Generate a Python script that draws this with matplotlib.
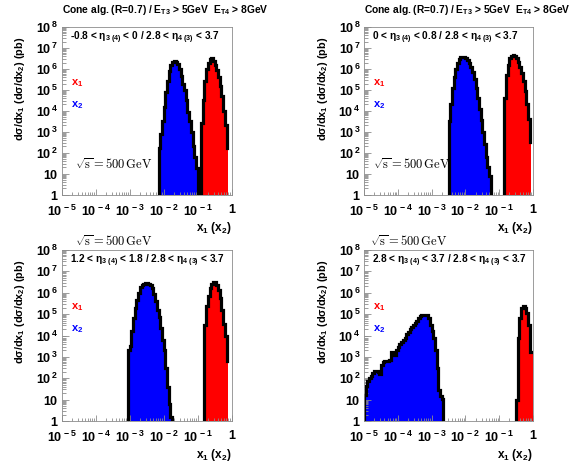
import numpy as np
import matplotlib
matplotlib.use('Agg')
import matplotlib.pyplot as plt
from matplotlib.ticker import FixedLocator, FixedFormatter, LogLocator, NullFormatter

plt.rcParams['font.family'] = ['Liberation Sans', 'DejaVu Sans']
plt.rcParams['font.weight'] = 'bold'
plt.rcParams['mathtext.fontset'] = 'custom'
plt.rcParams['mathtext.rm'] = 'Liberation Sans:bold'
plt.rcParams['mathtext.it'] = 'Liberation Sans:bold'
plt.rcParams['mathtext.bf'] = 'Liberation Sans:bold'

# bin width in log10(x)
BIN = 0.05

# log10 of dsigma/dx (pb), read bin by bin off the picture
tl_x2_lo = -2.15
tl_x2 = [2.2, 2.9, 3.5, 4.2, 4.9, 5.4, 5.9, 6.2, 6.33, 6.37, 6.35, 6.22, 6.0, 5.65,
         5.3, 5.0, 4.5, 3.95, 3.5, 3.0, 2.3, 1.8, 1.25]
tl_x1_lo = -0.90
tl_x1 = [3.4, 4.5, 5.4, 6.0, 6.3, 6.45, 6.5, 6.4, 6.2, 5.95, 5.6, 5.2, 4.7, 4.0, 3.3, 2.2]

tr_x2_lo = -2.50
tr_x2 = [3.5, 4.3, 5.1, 5.6, 6.0, 6.3, 6.48, 6.55, 6.57, 6.55, 6.5, 6.42, 6.3, 6.1,
         5.85, 5.5, 5.1, 4.6, 4.1, 3.55, 3.0, 2.4, 1.8, 1.3, 0.9]
tr_x1_lo = -0.85
tr_x1 = [4.6, 5.7, 6.2, 6.5, 6.62, 6.66, 6.6, 6.5, 6.35, 6.1, 5.8, 5.4, 4.95, 4.3, 3.6, 2.5]

bl_x2_lo = -3.05
bl_x2 = [3.3, 3.5, 4.2, 4.8, 5.3, 5.65, 6.0, 6.25, 6.38, 6.42, 6.45, 6.45, 6.42, 6.35,
         6.2, 5.95, 5.6, 5.2, 4.85, 4.35, 3.8, 3.3, 2.5, 1.6, 0.8, 0.2]
bl_x1_lo = -0.80
bl_x1 = [4.5, 5.4, 5.85, 6.2, 6.43, 6.51, 6.5, 6.35, 6.15, 5.75, 5.2, 4.55, 4.0, 2.8]

br_x2_lo = -5.0
br_x2 = [1.2, 1.65, 1.85, 2.0, 2.1, 2.25, 2.33, 2.33, 2.3, 2.22, 2.6, 2.75, 2.8, 2.8,
         2.82, 2.85, 3.22, 3.22, 3.08, 3.3, 3.45, 3.6, 3.7, 3.8, 3.9, 4.05, 4.15, 4.3,
         4.4, 4.5, 4.6, 4.7, 4.8, 4.9, 4.95, 4.97, 4.97, 4.95, 4.8, 4.5, 4.2, 3.9, 3.3,
         2.5, 1.45, 1.15, 1.05]
br_x1_lo = -0.50
br_x1 = [1.0, 3.9, 4.8, 5.3, 5.36, 5.3, 5.05, 4.5, 3.25, 3.25]

range_labels = [
    r'-0.8 < $\eta_{3\ (4)}$ < 0 / 2.8 < $\eta_{4\ (3)}$ < 3.7',
    r'0 < $\eta_{3\ (4)}$ < 0.8 / 2.8 < $\eta_{4\ (3)}$ < 3.7',
    r'1.2 < $\eta_{3\ (4)}$ < 1.8 / 2.8 < $\eta_{4\ (3)}$ < 3.7',
    r'2.8 < $\eta_{3\ (4)}$ < 3.7 / 2.8 < $\eta_{4\ (3)}$ < 3.7',
]
title_text = r'Cone alg. (R=0.7) / E$_{\rm T3}$ > 5GeV  E$_{\rm T4}$ > 8GeV'
sqrts_text = r'$\sqrt{\mathrm{s}} = 500\,\mathrm{GeV}$'
xlabel_text = r'x$_1$ (x$_2$)'
ylabel_text = r'd$\sigma$/dx$_1$ (d$\sigma$/dx$_2$) (pb)'

x_tick_labels = [r'$10^{\,-5}$', r'$10^{\,-4}$', r'$10^{\,-3}$', r'$10^{\,-2}$', r'$10^{\,-1}$', '1']
y_tick_labels = [r'$1\ \ \ $', r'$10\ \ $', r'$10^{\,2}$', r'$10^{\,3}$', r'$10^{\,4}$', r'$10^{\,5}$',
                 r'$10^{\,6}$', r'$10^{\,7}$', r'$10^{\,8}$']

RED = '#ff0000'
BLUE = '#0000ff'
GREY = '#8c8c8c'

fig = plt.figure(figsize=(5.8, 4.7), dpi=100)

rects = [
    [61.7 / 580, 1 - 194.5 / 470, 170 / 580, 167.5 / 470],
    [364 / 580, 1 - 194.5 / 470, 169 / 580, 167.5 / 470],
    [61.7 / 580, 1 - 421 / 470, 170 / 580, 171 / 470],
    [364 / 580, 1 - 421 / 470, 169 / 580, 171 / 470],
]


def draw_hist(ax, lo, logvals, color, open_end=False):
    vals = 10.0 ** np.array(logvals)
    xe = 10.0 ** (lo + BIN * np.arange(len(vals) + 1))
    ax.stairs(vals, xe, baseline=1, fill=True, color=color, lw=0, zorder=1)
    if open_end:
        # outline stops at the left edge of the last bin
        prev = np.concatenate([[1.0], vals[:-1]])
        xs = np.repeat(xe[:-1], 2)
        ys = np.column_stack([prev, vals]).ravel()
        ax.plot(xs, ys, color='black', lw=2.3, solid_joinstyle='miter', zorder=2)
    else:
        ax.stairs(vals, xe, baseline=1, fill=False, color='black', lw=2.3,
                  joinstyle='miter', zorder=2)


def setup(ax):
    ax.set_xscale('log')
    ax.set_yscale('log')
    ax.set_xlim(1e-5, 1)
    ax.set_ylim(1, 1e8)
    ax.xaxis.set_major_locator(FixedLocator(10.0 ** np.arange(-5, 1)))
    ax.xaxis.set_major_formatter(FixedFormatter(x_tick_labels))
    ax.xaxis.set_minor_locator(LogLocator(base=10, subs=np.arange(2, 10), numticks=100))
    ax.xaxis.set_minor_formatter(NullFormatter())
    ax.yaxis.set_major_locator(FixedLocator(10.0 ** np.arange(0, 9)))
    ax.yaxis.set_major_formatter(FixedFormatter(y_tick_labels))
    ax.yaxis.set_minor_locator(LogLocator(base=10, subs=np.arange(2, 10), numticks=100))
    ax.yaxis.set_minor_formatter(NullFormatter())
    ax.tick_params(which='both', direction='in', top=False, right=False,
                   color=GREY, width=0.6, labelsize=9)
    ax.tick_params(axis='x', which='major', length=4.0, pad=6.5)
    ax.tick_params(axis='x', which='minor', length=2.2)
    ax.tick_params(axis='y', which='major', length=5.0, pad=2.5)
    ax.tick_params(axis='y', which='minor', length=3.0)
    for s in ax.spines.values():
        s.set_color(GREY)
        s.set_linewidth(0.6)


panels = [
    (tl_x2_lo, tl_x2, tl_x1_lo, tl_x1),
    (tr_x2_lo, tr_x2, tr_x1_lo, tr_x1),
    (bl_x2_lo, bl_x2, bl_x1_lo, bl_x1),
    (br_x2_lo, br_x2, br_x1_lo, br_x1),
]
sqrts_x = [0.078, 0.053, 0.078, 0.036]

for i, (b_lo, b_vals, r_lo, r_vals) in enumerate(panels):
    ax = fig.add_axes(rects[i])
    setup(ax)
    draw_hist(ax, b_lo, b_vals, BLUE)
    draw_hist(ax, r_lo, r_vals, RED, open_end=True)

    ax.text(0.05, 0.935, range_labels[i], transform=ax.transAxes, fontsize=7.3,
            ha='left', va='center')
    ax.text(0.053, 0.665, r'x$_1$', color=RED, transform=ax.transAxes, fontsize=8,
            ha='left', va='center')
    ax.text(0.053, 0.535, r'x$_2$', color=BLUE, transform=ax.transAxes, fontsize=8,
            ha='left', va='center')
    ax.text(1.0, -0.2, xlabel_text, transform=ax.transAxes, fontsize=8.5,
            ha='right', va='center', clip_on=False)
    ax.text(-0.245, 0.94, ylabel_text, transform=ax.transAxes, fontsize=7.8,
            rotation=90, ha='center', va='top', clip_on=False)
    if i < 2:
        ax.text(0.0, 1.1, title_text, transform=ax.transAxes, fontsize=7.4,
                ha='left', va='center', clip_on=False)
        ax.text(sqrts_x[i], 0.176, sqrts_text, transform=ax.transAxes, fontsize=9,
                ha='left', va='center', math_fontfamily='cm', fontweight='normal')
    else:
        ax.text(sqrts_x[i], 1.047, sqrts_text, transform=ax.transAxes, fontsize=9,
                ha='left', va='center', math_fontfamily='cm', fontweight='normal',
                clip_on=False)

fig.savefig('out.png', dpi=100)
